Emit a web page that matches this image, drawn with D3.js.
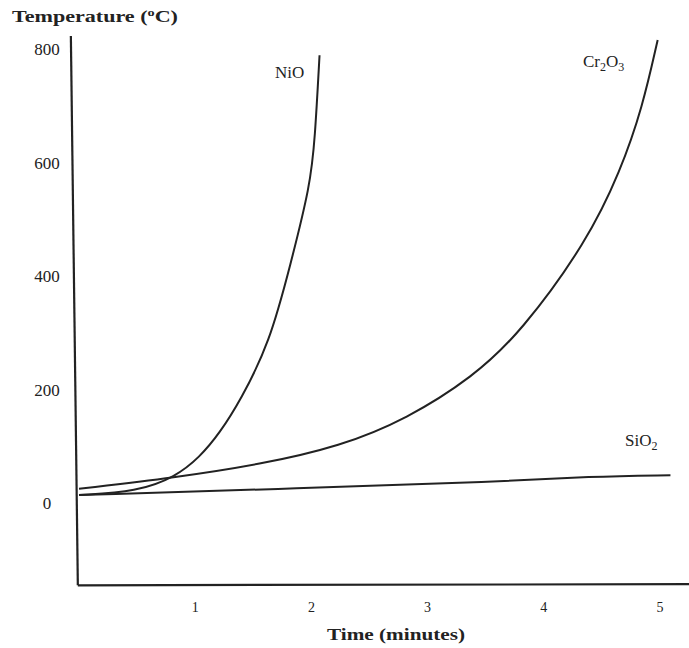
<!DOCTYPE html>
<html><head><meta charset="utf-8">
<script src="https://cdn.jsdelivr.net/npm/d3@7"></script>
<style>
html,body{margin:0;padding:0;background:#fff;}
svg text{font-family:"Liberation Serif","Times New Roman",serif;fill:#222;}
</style></head>
<body><svg id="c" width="689" height="648"></svg>
<script>
// Data (time in minutes, temperature in °C)
const niTime  = [0, 0.5, 0.83, 1.04, 1.21, 1.39, 1.64, 1.82, 1.99, 2.03, 2.07];
const niTemp  = [14, 20, 46, 81, 123, 181, 282, 420, 560, 640, 789];
const crTime  = [0, 0.83, 1.56, 2.25, 2.82, 3.39, 3.80, 4.37, 4.66, 4.85, 4.98];
const crTemp  = [25, 45, 68, 100, 148, 222, 300, 460, 585, 698, 816];
const siTime  = [0, 1.9, 3.62, 4.4, 5.09];
const siTemp  = [14, 26, 37, 47, 49];
const yTicks  = [0, 200, 400, 600, 800];
const xTicks  = [1, 2, 3, 4, 5];
const seriesLabels = ["NiO", "Cr2O3", "SiO2"];

const svg = d3.select("#c");
const x = d3.scaleLinear().domain([0, 5]).range([79, 660]);
const y = d3.scaleLinear().domain([0, 800]).range([503, 49]);
const ink = "#222";

// axes lines
svg.append("line").attr("x1", x(-0.07)).attr("y1", y(823)).attr("x2", x(-0.01)).attr("y2", y(-145))
  .attr("stroke", ink).attr("stroke-width", 2.2);
svg.append("line").attr("x1", x(-0.01)).attr("y1", y(-145)).attr("x2", x(5.25)).attr("y2", y(-143))
  .attr("stroke", ink).attr("stroke-width", 2.2);

// y tick labels
svg.selectAll(".yt").data(yTicks).enter().append("text")
  .attr("x", 47).attr("y", d => y(d) + 6)
  .attr("text-anchor", "middle").attr("font-size", 17).text(d => d);

// x tick labels
svg.selectAll(".xt").data(xTicks).enter().append("text")
  .attr("x", d => x(d)).attr("y", 612)
  .attr("text-anchor", "middle").attr("font-size", 14).text(d => d);

// axis titles
const yt = svg.append("text").attr("x", 12).attr("y", 22).attr("font-size", 17).attr("font-weight", "bold")
  .attr("textLength", 166).attr("lengthAdjust", "spacingAndGlyphs");
yt.append("tspan").text("Temperature (");
yt.append("tspan").attr("font-size", 11).attr("dy", -6).text("o");
yt.append("tspan").attr("dy", 6).text("C)");

svg.append("text").attr("x", 396).attr("y", 640).attr("text-anchor", "middle")
  .attr("font-size", 17).attr("font-weight", "bold")
  .attr("textLength", 138).attr("lengthAdjust", "spacingAndGlyphs").text("Time (minutes)");

// curves
const line = d3.line().x(d => x(d[0])).y(d => y(d[1])).curve(d3.curveBasis);
const series = [
  d3.zip(niTime, niTemp),
  d3.zip(crTime, crTemp),
  d3.zip(siTime, siTemp)
];
svg.selectAll(".s").data(series).enter().append("path")
  .attr("d", line).attr("fill", "none").attr("stroke", ink).attr("stroke-width", 2);

// series labels
svg.append("text").attr("x", 275).attr("y", 78).attr("font-size", 17).text(seriesLabels[0]);
const cr = svg.append("text").attr("x", 583).attr("y", 67).attr("font-size", 17);
cr.append("tspan").text("Cr");
cr.append("tspan").attr("font-size", 12).attr("dy", 4).text("2");
cr.append("tspan").attr("dy", -4).text("O");
cr.append("tspan").attr("font-size", 12).attr("dy", 4).text("3");
const si = svg.append("text").attr("x", 625).attr("y", 446).attr("font-size", 17);
si.append("tspan").text("SiO");
si.append("tspan").attr("font-size", 12).attr("dy", 4).text("2");
</script></body></html>
